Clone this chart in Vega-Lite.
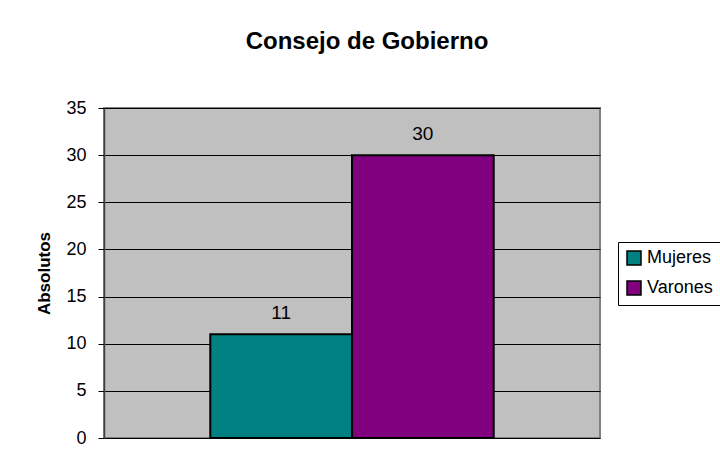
{
  "$schema": "https://vega.github.io/schema/vega-lite/v6.json",
  "width": 496,
  "height": 330,
  "autosize": {"type": "none"},
  "padding": {"left": 104, "top": 108, "right": 120, "bottom": 32},
  "background": "white",
  "title": {
    "text": "Consejo de Gobierno",
    "fontSize": 24,
    "fontWeight": "bold",
    "font": "Liberation Sans",
    "color": "black",
    "anchor": "middle",
    "offset": 45,
    "dx": 15
  },
  "data": {
    "values": [
      {"sexo": "Mujeres", "absolutos": 11},
      {"sexo": "Varones", "absolutos": 30}
    ]
  },
  "encoding": {
    "x": {
      "field": "sexo",
      "type": "nominal",
      "axis": null,
      "scale": {"paddingInner": 0, "paddingOuter": 0.75}
    },
    "y": {
      "field": "absolutos",
      "type": "quantitative",
      "scale": {"domain": [0, 35], "nice": false},
      "axis": {
        "title": "Absolutos",
        "titleFont": "Liberation Sans",
        "titleFontSize": 17,
        "titleFontWeight": "bold",
        "titleColor": "black",
        "titlePadding": 12,
        "values": [0, 5, 10, 15, 20, 25, 30, 35],
        "labelFont": "Liberation Sans",
        "labelFontSize": 18,
        "labelColor": "black",
        "labelPadding": 12,
        "tickColor": "black",
        "tickSize": 6,
        "domainColor": "#404040",
        "domainWidth": 1.5,
        "gridColor": "black",
        "gridWidth": 1,
        "gridOpacity": 1
      }
    }
  },
  "layer": [
    {
      "mark": {"type": "bar", "stroke": "black", "strokeWidth": 2},
      "encoding": {
        "color": {
          "field": "sexo",
          "type": "nominal",
          "scale": {"domain": ["Mujeres", "Varones"], "range": ["#008080", "#800080"]},
          "legend": {
            "title": null,
            "orient": "none",
            "legendX": 514,
            "legendY": 134,
            "strokeColor": "black",
            "fillColor": "white",
            "padding": 7,
            "symbolType": "square",
            "symbolSize": 196,
            "symbolStrokeColor": "black",
            "symbolStrokeWidth": 1.5,
            "symbolOpacity": 1,
            "labelFont": "Liberation Sans",
            "labelFontSize": 18,
            "labelColor": "black",
            "labelOffset": 4,
            "rowPadding": 10
          }
        }
      }
    },
    {
      "mark": {"type": "text", "dy": -21, "fontSize": 19, "font": "Liberation Sans", "color": "black"},
      "encoding": {"text": {"field": "absolutos", "type": "quantitative"}}
    }
  ],
  "config": {
    "view": {"fill": "#C0C0C0", "stroke": "#808080", "strokeWidth": 2}
  }
}
